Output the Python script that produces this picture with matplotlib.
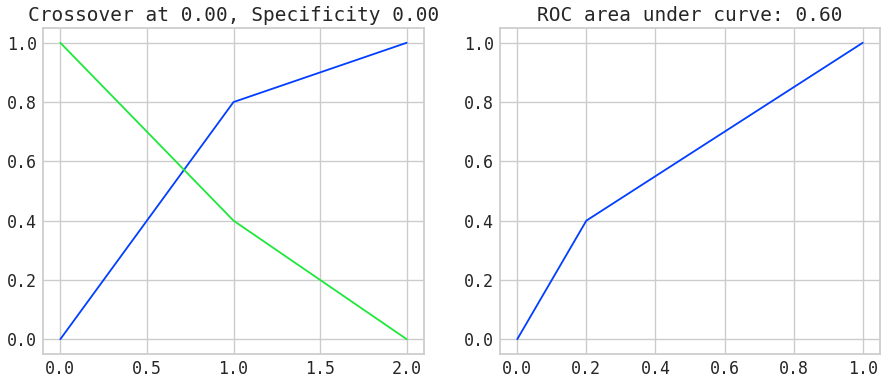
import matplotlib
matplotlib.use("Agg")
import matplotlib.pyplot as plt
import seaborn as sns

sns.set_theme(style="whitegrid", palette="bright")
plt.rcParams['font.family'] = ['DejaVu Sans Mono']

# thresholds and rates
thresholds = [0, 1, 2]
sensitivity = [0.0, 0.8, 1.0]
specificity = [1.0, 0.4, 0.0]

# roc curve
fpr = [0.0, 0.2, 1.0]
tpr = [0.0, 0.4, 1.0]

crossover = 0.00
spec_at_cross = 0.00
auc = 0.60

fig = plt.figure(figsize=(8.87, 3.83), dpi=100)
ax1 = fig.add_axes([0.0485, 0.0757, 0.4295, 0.8513])
ax2 = fig.add_axes([0.5637, 0.0757, 0.4284, 0.8513])

blue = "#023eff"
green = "#1de83b"

ax1.plot(thresholds, sensitivity, color=blue, lw=1.3)
ax1.plot(thresholds, specificity, color=green, lw=1.3)
ax1.set_title(f"Crossover at {crossover:.2f}, Specificity {spec_at_cross:.2f}",
              fontsize=14, color="#262626", pad=5)

ax2.plot(fpr, tpr, color=blue, lw=1.3)
ax2.set_title(f"ROC area under curve: {auc:.2f}", fontsize=14, color="#262626", pad=5)

for ax in (ax1, ax2):
    ax.tick_params(labelsize=12, length=0, pad=4.5, labelcolor="#262626")

fig.savefig("out.png", dpi=100)
